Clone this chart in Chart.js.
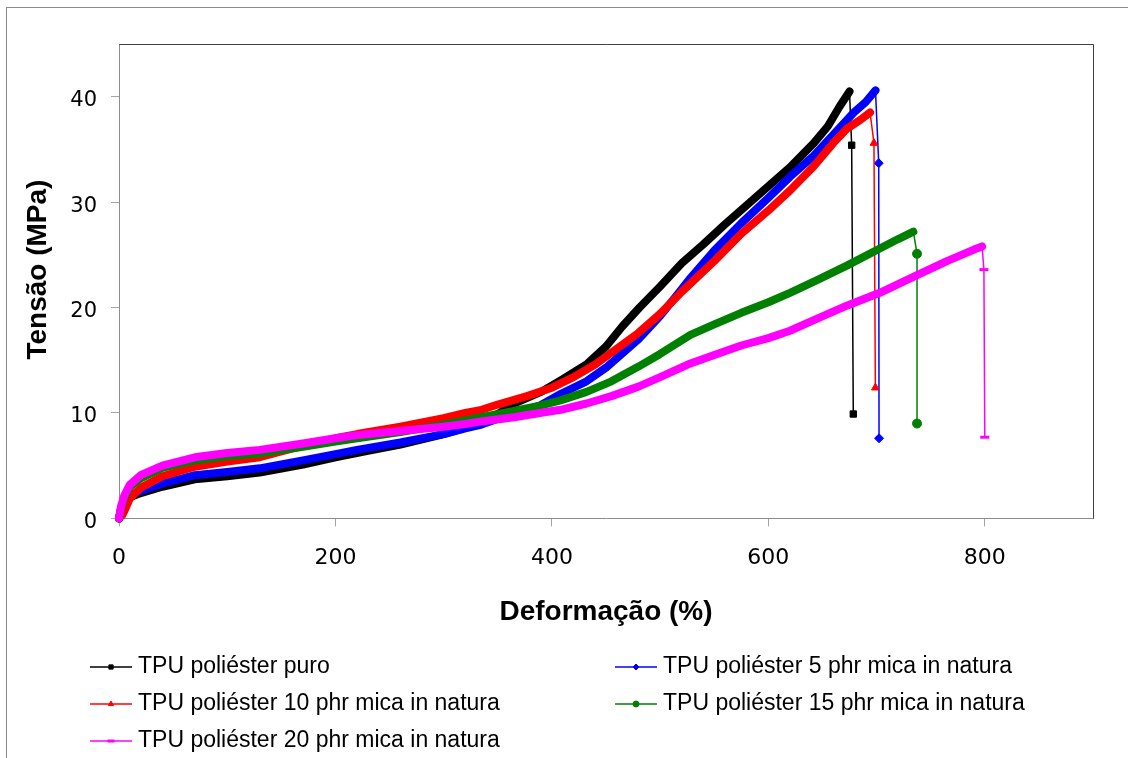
<!DOCTYPE html>
<html>
<head>
<meta charset="utf-8">
<script src="https://cdn.jsdelivr.net/npm/chart.js@4.4.1/dist/chart.umd.min.js"></script>
<style>
  html, body { margin: 0; padding: 0; background: #fff; }
  #wrap { width: 1128px; height: 758px; }
</style>
</head>
<body>
<div id="wrap"><canvas id="tensileChart" width="1128" height="758"></canvas></div>
<script>
// series: [deformação %, tensão MPa]
const seriesNames = [
  'TPU poliéster puro',
  'TPU poliéster 5 phr mica in natura',
  'TPU poliéster 10 phr mica in natura',
  'TPU poliéster 15 phr mica in natura',
  'TPU poliéster 20 phr mica in natura'
];
const seriesColors = ['#000000', '#0000ff', '#ff0000', '#008000', '#ff00ff'];
const seriesMarkers = ['rect', 'rectRot', 'triangle', 'circle', 'line'];

const puro = [[0,0],[2,1.0],[5,1.5],[10,2.0],[20,2.4],[40,3.0],[70,3.7],[100,4.0],[130,4.35],[170,5.1],[200,5.8],[230,6.4],[260,7.0],[300,8.0],[320,8.6],[350,9.9],[365,10.9],[390,12.0],[410,13.2],[432,14.6],[450,16.3],[465,18.2],[481,20.0],[500,22.0],[520,24.2],[540,26.0],[560,27.9],[580,29.7],[600,31.5],[620,33.3],[642,35.6],[655,37.2],[666,39.1],[675,40.5],[677,35.4],[678.5,9.9]];
const mica5 = [[0,0],[2,0.8],[5,1.4],[10,2.2],[20,2.6],[40,3.3],[70,4.1],[100,4.4],[130,4.75],[170,5.5],[200,6.1],[220,6.5],[260,7.2],[300,8.0],[320,8.55],[335,8.9],[365,10.0],[389,10.7],[408,11.8],[432,13.0],[450,14.3],[480,17.0],[500,19.2],[518,21.5],[528,22.8],[550,25.4],[575,28.0],[600,30.4],[620,32.4],[642,34.4],[660,36.4],[679,38.5],[690,39.5],[699,40.6],[702,33.7],[702.3,7.6]];
const mica10 = [[0,0],[3,0.3],[5,0.7],[10,1.9],[20,2.9],[40,4.0],[70,4.9],[100,5.4],[130,5.8],[170,6.9],[200,7.6],[220,8.0],[260,8.7],[300,9.5],[320,10.0],[335,10.3],[350,10.8],[377,11.6],[400,12.4],[420,13.4],[440,14.6],[460,16.1],[480,17.6],[500,19.4],[520,21.5],[550,24.4],[575,27.0],[600,29.2],[620,31.1],[642,33.4],[660,35.6],[673,37.0],[685,37.8],[694,38.5],[697.6,35.6],[698.9,12.4]];
const mica15 = [[0,0],[2,1.0],[5,2.0],[10,3.0],[20,3.8],[40,4.8],[70,5.5],[100,5.9],[130,6.15],[170,6.8],[200,7.3],[220,7.6],[260,8.2],[300,8.9],[320,9.3],[335,9.6],[365,10.2],[389,10.7],[408,11.2],[432,12.0],[455,13.0],[480,14.4],[500,15.6],[528,17.4],[550,18.4],[575,19.5],[600,20.5],[620,21.4],[645,22.6],[673,24.0],[703,25.6],[720,26.5],[734,27.2],[737.4,25.1],[737.4,9.0]];
const mica20 = [[0,0],[2,1.2],[5,2.2],[10,3.2],[20,4.1],[40,5.0],[70,5.8],[100,6.2],[130,6.5],[170,7.1],[200,7.6],[220,7.9],[260,8.3],[300,8.7],[320,8.95],[335,9.2],[365,9.6],[389,10.0],[408,10.3],[432,10.9],[455,11.6],[480,12.5],[500,13.4],[528,14.7],[550,15.5],[575,16.4],[600,17.1],[620,17.8],[642,18.8],[673,20.2],[703,21.4],[734,22.9],[765,24.4],[790,25.5],[797.5,25.8],[799.2,23.6],[800,7.7]];

const xTicks = [0, 200, 400, 600, 800];
const yTicks = [0, 10, 20, 30, 40];

const allSeries = [puro, mica5, mica10, mica15, mica20];

function makeDataset(points, i) {
  const n = points.length;
  const isDash = seriesMarkers[i] === 'line';
  return {
    label: seriesNames[i],
    data: points.map(p => ({ x: p[0], y: p[1] })),
    borderColor: seriesColors[i],
    backgroundColor: seriesColors[i],
    borderWidth: 8,
    borderJoinStyle: 'round',
    borderCapStyle: 'round',
    pointStyle: seriesMarkers[i],
    pointRadius: c => (c.dataIndex >= n - 2 ? 4.5 : 0),
    pointBorderWidth: isDash ? 3 : 1,
    pointBackgroundColor: seriesColors[i],
    pointBorderColor: seriesColors[i],
    order: 5 - i,
    clip: false,
    // the break after the peak is drawn as a thin line
    segment: { borderWidth: c => (c.p1DataIndex >= n - 2 ? 1.5 : 8) }
  };
}

const framePlugin = {
  id: 'frame',
  beforeDraw(chart) {
    const ctx = chart.ctx;
    ctx.save();
    ctx.strokeStyle = '#8c8c8c';
    ctx.lineWidth = 1;
    ctx.strokeRect(6.5, 7.5, 1130, 760);
    ctx.restore();
  },
  afterDraw(chart) {
    const ctx = chart.ctx;
    const a = chart.chartArea;
    ctx.save();
    ctx.strokeStyle = '#404040';
    ctx.lineWidth = 1;
    ctx.beginPath();
    ctx.moveTo(Math.round(a.left) + 0.5, Math.round(a.top) + 0.5);
    ctx.lineTo(Math.round(a.right) + 0.5, Math.round(a.top) + 0.5);
    ctx.lineTo(Math.round(a.right) + 0.5, Math.round(a.bottom) + 0.5);
    ctx.stroke();

    // legend: two columns below the chart
    const slots = [[90, 667], [615, 667], [90, 704], [615, 704], [90, 741]];
    chart.data.datasets.forEach((ds, i) => {
      const [x, y] = slots[i];
      ctx.strokeStyle = ds.borderColor;
      ctx.fillStyle = ds.borderColor;
      ctx.lineWidth = 1.5;
      ctx.beginPath();
      ctx.moveTo(x, y);
      ctx.lineTo(x + 42, y);
      ctx.stroke();
      const dash = ds.pointStyle === 'line';
      ctx.lineWidth = dash ? 3 : 1;
      Chart.helpers.drawPoint(ctx, { pointStyle: ds.pointStyle, radius: dash ? 3.5 : 3, borderWidth: dash ? 3 : 1, rotation: 0 }, x + 21, y);
      ctx.fillStyle = '#000';
      ctx.font = '23px "Liberation Sans", Arial, sans-serif';
      ctx.textBaseline = 'middle';
      ctx.textAlign = 'left';
      ctx.fillText(ds.label, x + 48, y);
    });
    ctx.restore();
  }
};

new Chart(document.getElementById('tensileChart'), {
  type: 'line',
  data: { datasets: allSeries.map(makeDataset) },
  options: {
    responsive: false,
    devicePixelRatio: 1,
    animation: false,
    events: [],
    layout: { padding: { left: 0, top: 44, right: 35, bottom: 118 } },
    plugins: { legend: { display: false }, tooltip: { enabled: false } },
    scales: {
      x: {
        type: 'linear',
        min: 0,
        max: 900,
        afterBuildTicks: s => { s.ticks = xTicks.map(v => ({ value: v })); },
        afterFit: s => { s.height = 121.6; },
        grid: { drawOnChartArea: false, drawTicks: true, tickLength: 8, color: '#a6a6a6' },
        border: { color: '#8c8c8c' },
        ticks: { padding: 19, maxRotation: 0, color: '#000', font: { family: 'DejaVu Sans', size: 22 } },
        title: {
          display: true, text: 'Deformação (%)', color: '#000',
          font: { family: 'Liberation Sans', size: 28, weight: 'bold' },
          padding: { top: 0, bottom: 11 }
        }
      },
      y: {
        type: 'linear',
        min: 0,
        max: 45,
        afterBuildTicks: s => { s.ticks = yTicks.map(v => ({ value: v })); },
        afterFit: s => { s.width = 119; },
        grid: { drawOnChartArea: false, drawTicks: true, tickLength: 8, color: '#a6a6a6' },
        border: { color: '#8c8c8c' },
        ticks: { padding: 14, labelOffset: 4, color: '#000', font: { family: 'DejaVu Sans', size: 21 } },
        title: {
          display: true, text: '   Tensão (MPa)', color: '#000',
          font: { family: 'Liberation Sans', size: 28, weight: 'bold' },
          padding: { top: 21, bottom: 0 }
        }
      }
    }
  },
  plugins: [framePlugin]
});
</script>
</body>
</html>
